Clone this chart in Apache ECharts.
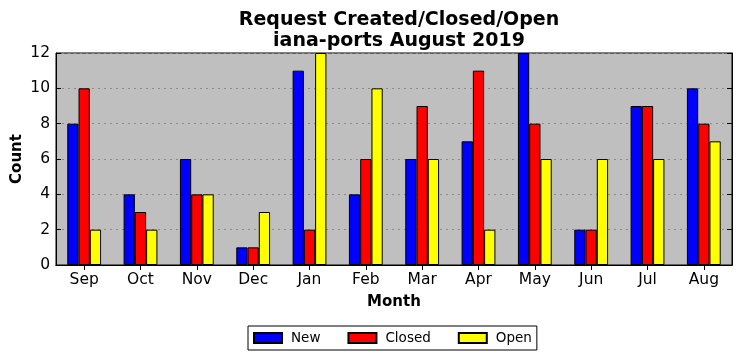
<!DOCTYPE html>
<html><head><meta charset="utf-8">
<script src="https://cdn.jsdelivr.net/npm/echarts@6/dist/echarts.min.js"></script>
<style>html,body{margin:0;padding:0;background:#fff}#c{width:741px;height:361px}</style>
</head><body><div id="c"></div>
<script>
const months = ['Sep','Oct','Nov','Dec','Jan','Feb','Mar','Apr','May','Jun','Jul','Aug'];
const newVals = [8,4,6,1,11,4,6,7,12,2,9,10];
const closedVals = [10,3,4,1,2,6,9,11,8,2,9,8];
const openVals = [2,2,4,3,12,10,6,2,6,6,6,7];
const F = 'DejaVu Sans';
const chart = echarts.init(document.getElementById('c'));
function bar(name, data, color){
  return {name, type:'bar', data, xAxisIndex:0, yAxisIndex:0, barGap:'0%', barCategoryGap:'40%',
    itemStyle:{color, borderColor:'#000', borderWidth:1}, animation:false};
}
chart.setOption({
  animation:false,
  title:{text:'Request Created/Closed/Open\niana-ports August 2019', left:394, top:4, textAlign:'center',
    textStyle:{fontFamily:F, fontSize:19, fontWeight:'bold', color:'#000', lineHeight:21.5}},
  legend:{top:326, left:248, itemWidth:28, itemHeight:10, itemGap:27, icon:'rect',
    borderColor:'#000', borderWidth:1, padding:[5,5,5,5],
    textStyle:{fontFamily:F, fontSize:13.5, color:'#000', padding:[0,0,0,4]},
    data:['New','Closed','Open']},
  grid:{left:56, right:9, top:53, bottom:96, outerBoundsMode:'none', containLabel:false,
    show:true, backgroundColor:'#bfbfbf', borderColor:'#000', borderWidth:1},
  xAxis:[
    {type:'category', data:months, position:'bottom', name:'Month', nameLocation:'middle', nameGap:30,
     nameTextStyle:{fontFamily:F, fontSize:15, fontWeight:'bold', color:'#000'},
     axisLine:{show:true, lineStyle:{color:'#000'}},
     axisTick:{show:true, inside:true, alignWithLabel:true, length:5, lineStyle:{color:'#000'}},
     axisLabel:{fontFamily:F, fontSize:15.5, color:'#000', margin:7}},
    {type:'category', data:months, position:'top',
     axisLine:{show:true, lineStyle:{color:'#000'}},
     axisTick:{show:true, inside:true, alignWithLabel:true, length:5, lineStyle:{color:'#000'}},
     axisLabel:{show:false}}
  ],
  yAxis:[
    {type:'value', min:0, max:12, interval:2, name:'Count', nameLocation:'middle', nameGap:31, nameRotate:90,
     nameMoveOverlap:false,
     nameTextStyle:{fontFamily:F, fontSize:15, fontWeight:'bold', color:'#000'},
     axisLine:{show:true, lineStyle:{color:'#000'}},
     axisTick:{show:true, inside:true, length:5, lineStyle:{color:'#000'}},
     axisLabel:{fontFamily:F, fontSize:15.5, color:'#000', margin:6},
     splitLine:{show:true, lineStyle:{color:'#8a8a8a', type:[2,4], width:1}}},
    {type:'value', min:0, max:12, interval:2, position:'right',
     axisLine:{show:true, lineStyle:{color:'#000'}},
     axisTick:{show:true, inside:true, length:5, lineStyle:{color:'#000'}},
     axisLabel:{show:false}, splitLine:{show:false}}
  ],
  series:[bar('New', newVals, '#0000ff'), bar('Closed', closedVals, '#ff0000'), bar('Open', openVals, '#ffff00')]
});
</script></body></html>
